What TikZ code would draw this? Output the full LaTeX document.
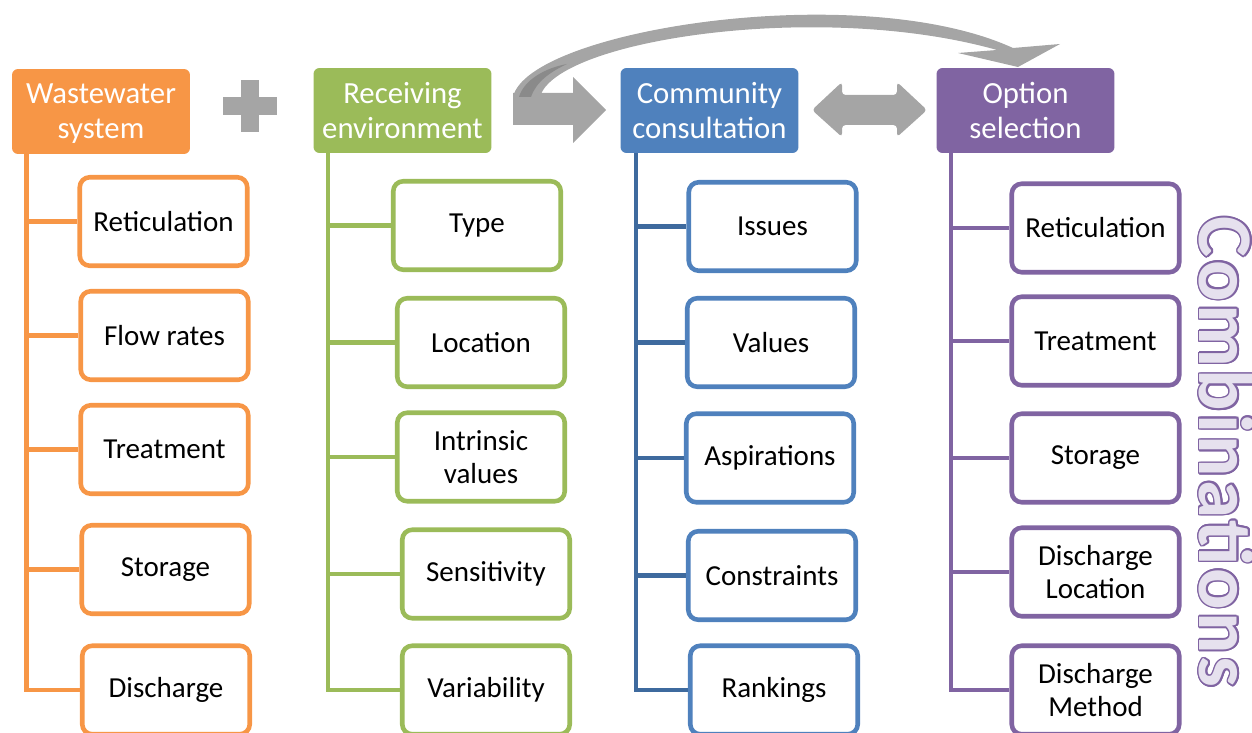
\documentclass[tikz,border=0pt]{standalone}
\usepackage{fontspec}
\setmainfont{Carlito}
\usepackage{contour}
\usepackage{tikz}

\definecolor{orng}{HTML}{F79646}
\definecolor{grn}{HTML}{9BBB59}
\definecolor{blu}{HTML}{4F81BD}
\definecolor{bludark}{HTML}{3E6A9E}
\definecolor{purp}{HTML}{8064A2}
\definecolor{lav}{HTML}{E6E1EE}
\definecolor{gry}{HTML}{A5A5A5}
\definecolor{grydark}{HTML}{8A8A8A}

\contourlength{0.9pt}

\begin{document}
\begin{tikzpicture}[x=0.02cm, y=-0.02cm,
  head/.style={rectangle, rounded corners=0.12cm, minimum width=3.56cm, minimum height=1.7cm, inner sep=0pt, text depth=0pt, text=white, align=center, font=\fontsize{17.5}{20}\selectfont},
  leaf/.style={rectangle, draw, line width=2.6pt, rounded corners=0.2cm, fill=white, minimum width=3.35cm, minimum height=1.77cm, inner sep=0pt, align=center, font=\fontsize{16.5}{18.5}\selectfont},
  link/.style={line width=2.6pt}]
  \useasboundingbox (0,0) rectangle (1252,733);

  % headings
  \node[head, fill=orng] (w0) at (101,111.5) {Wastewater\\system};
  \node[head, fill=grn] (r0) at (402.5,110.5) {Receiving\\environment};
  \node[head, fill=blu] (c0) at (709.5,110.5) {Community\\consultation};
  \node[head, fill=purp] (o0) at (1025.5,110.5) {Option\\selection};

  % wastewater system
  \node[leaf, draw=orng] (w1) at (163.5,221.5) {Reticulation};
  \node[leaf, draw=orng] (w2) at (164.5,335.5) {Flow rates};
  \node[leaf, draw=orng] (w3) at (164.5,449.5) {Treatment};
  \node[leaf, draw=orng] (w4) at (165.5,569.5) {Storage};
  \node[leaf, draw=orng] (w5) at (166,690) {Discharge};

  % receiving environment
  \node[leaf, draw=grn] (r1) at (477,225.5) {Type};
  \node[leaf, draw=grn] (r2) at (481,342.5) {Location};
  \node[leaf, draw=grn] (r3) at (481,457) {Intrinsic\\values};
  \node[leaf, draw=grn] (r4) at (486,574) {Sensitivity};
  \node[leaf, draw=grn] (r5) at (486,690) {Variability};

  % community consultation
  \node[leaf, draw=blu] (c1) at (772.5,226.5) {Issues};
  \node[leaf, draw=blu] (c2) at (771,342.5) {Values};
  \node[leaf, draw=blu] (c3) at (770,458) {Aspirations};
  \node[leaf, draw=blu] (c4) at (772,575.5) {Constraints};
  \node[leaf, draw=blu] (c5) at (774,690) {Rankings};

  % option selection
  \node[leaf, draw=purp] (o1) at (1095.5,228) {Reticulation};
  \node[leaf, draw=purp] (o2) at (1095.5,341) {Treatment};
  \node[leaf, draw=purp] (o3) at (1095.5,458) {Storage};
  \node[leaf, draw=purp] (o4) at (1095.5,572) {Discharge\\Location};
  \node[leaf, draw=purp] (o5) at (1095.5,690) {Discharge\\Method};

  % trunks and branches
  \coordinate (wt) at ([xshift=0.3cm]w0.south west);
  \coordinate (rt) at ([xshift=0.3cm]r0.south west);
  \coordinate (ct) at ([xshift=0.32cm]c0.south west);
  \coordinate (ot) at ([xshift=0.3cm]o0.south west);
  \draw[link, orng] (wt) |- (w5.west) (wt) |- (w4.west) (wt) |- (w3.west) (wt) |- (w2.west) (wt) |- (w1.west);
  \draw[link, grn] (rt) |- (r5.west) (rt) |- (r4.west) (rt) |- (r3.west) (rt) |- (r2.west) (rt) |- (r1.west);
  \draw[link, bludark] (ct) |- (c5.west) (ct) |- (c4.west) (ct) |- (c3.west) (ct) |- (c2.west) (ct) |- (c1.west);
  \draw[link, purp] (ot) |- (o5.west) (ot) |- (o4.west) (ot) |- (o3.west) (ot) |- (o2.west) (ot) |- (o1.west);

  % plus sign and grey arrows
  \fill[gry] (241,80) rectangle (259,132);
  \fill[gry] (223,97) rectangle (277,115);
  \fill[gry] (513,93) -- (573,93) -- (573,77) -- (606,110) -- (573,143) -- (573,125) -- (513,125) -- cycle;
  \fill[gry, rounded corners=2pt] (812,110) -- (842,82) -- (842,95) -- (897,95) -- (897,82) -- (927,110) -- (897,137) -- (897,125) -- (842,125) -- (842,137) -- cycle;
  \fill[gry] (513,97) .. controls (528,30) and (860,-22) .. (1013,48) -- (1060,44) -- (1018,67) -- (958,53) -- (997,50)
    .. controls (820,0) and (555,40) .. (540,97) -- cycle;
  \fill[grydark] (519,97) .. controls (524,80) and (545,68) .. (567,64) .. controls (550,72) and (536,82) .. (531,97) -- cycle;

  \node[rotate=-90, font=\fontsize{44}{44}\bfseries\addfontfeature{LetterSpace=3.5}] (comb) at (1226,452) {\contour{purp}{\textcolor{lav}{Combinations}}};
\end{tikzpicture}
\end{document}
